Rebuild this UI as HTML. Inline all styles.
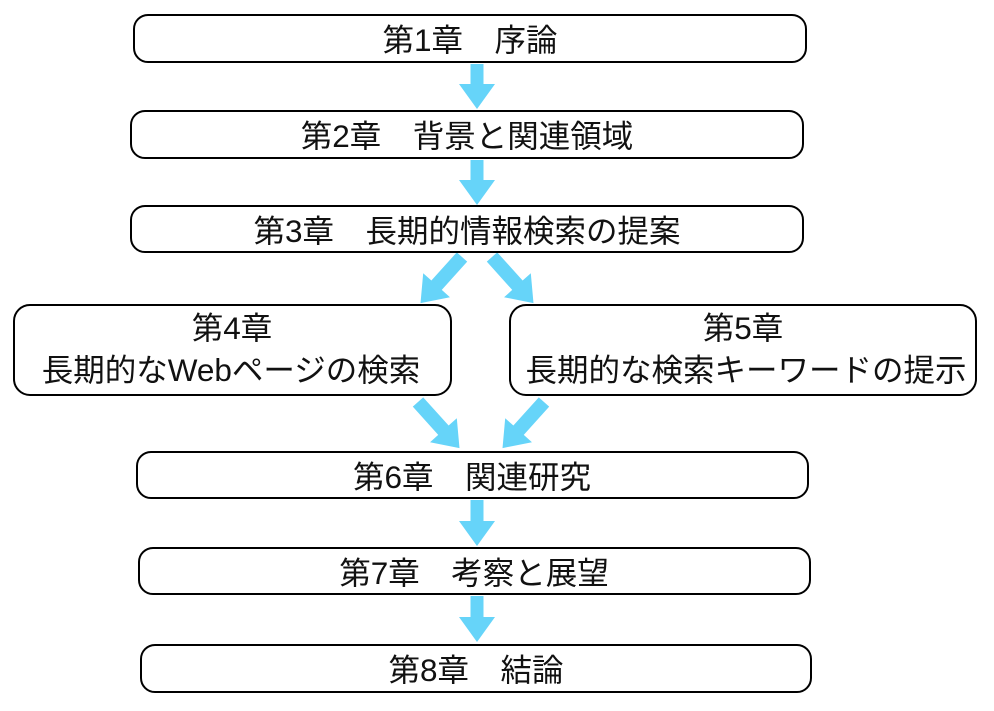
<!DOCTYPE html>
<html><head><meta charset="utf-8"><style>
html,body{margin:0;padding:0;background:#fff;}
svg{display:block;}
text{font-family:"Liberation Sans","Noto Sans CJK JP",sans-serif;font-size:31.5px;fill:#111;text-anchor:middle;dominant-baseline:central;}
rect{fill:#fff;stroke:#000;stroke-width:2;}
.a{fill:#66d4f9;}
</style></head><body>
<svg width="994" height="711" viewBox="0 0 994 711">
<g class="a">
<polygon points="470.5,64 483.5,64 483.5,84 495,84 477,109 459,84 470.5,84"/>
<polygon points="470.5,160 483.5,160 483.5,180 495,180 477,205 459,180 470.5,180"/>
<polygon points="470.5,500 483.5,500 483.5,521 495,521 477,546 459,521 470.5,521"/>
<polygon points="470.5,596 483.5,596 483.5,617 495,617 477,642 459,617 470.5,617"/>
<g transform="translate(462,257) rotate(132)"><polygon points="0,-7 38,-7 38,-18 62,0 38,18 38,7 0,7"/></g>
<g transform="translate(492,257) rotate(48)"><polygon points="0,-7 38,-7 38,-18 62,0 38,18 38,7 0,7"/></g>
<g transform="translate(418,402) rotate(48)"><polygon points="0,-7 38,-7 38,-18 62,0 38,18 38,7 0,7"/></g>
<g transform="translate(544,402) rotate(132)"><polygon points="0,-7 38,-7 38,-18 62,0 38,18 38,7 0,7"/></g>
</g>
<rect x="134" y="15" width="672" height="47" rx="14"/>
<text x="470" y="40">第1章　序論</text>
<rect x="131" y="111" width="672" height="47" rx="14"/>
<text x="467" y="136">第2章　背景と関連領域</text>
<rect x="131" y="206" width="672" height="46" rx="14"/>
<text x="467" y="231">第3章　長期的情報検索の提案</text>
<rect x="14" y="305" width="437" height="90" rx="16"/>
<text x="232" y="328">第4章</text>
<text x="231" y="370">長期的なWebページの検索</text>
<rect x="510" y="305" width="466" height="90" rx="16"/>
<text x="743" y="328">第5章</text>
<text x="746" y="370">長期的な検索キーワードの提示</text>
<rect x="137" y="452" width="671" height="46" rx="14"/>
<text x="472" y="477">第6章　関連研究</text>
<rect x="139" y="548" width="671" height="46" rx="14"/>
<text x="474" y="573">第7章　考察と展望</text>
<rect x="141" y="645" width="670" height="47" rx="14"/>
<text x="476" y="670">第8章　結論</text>
</svg>
</body></html>
